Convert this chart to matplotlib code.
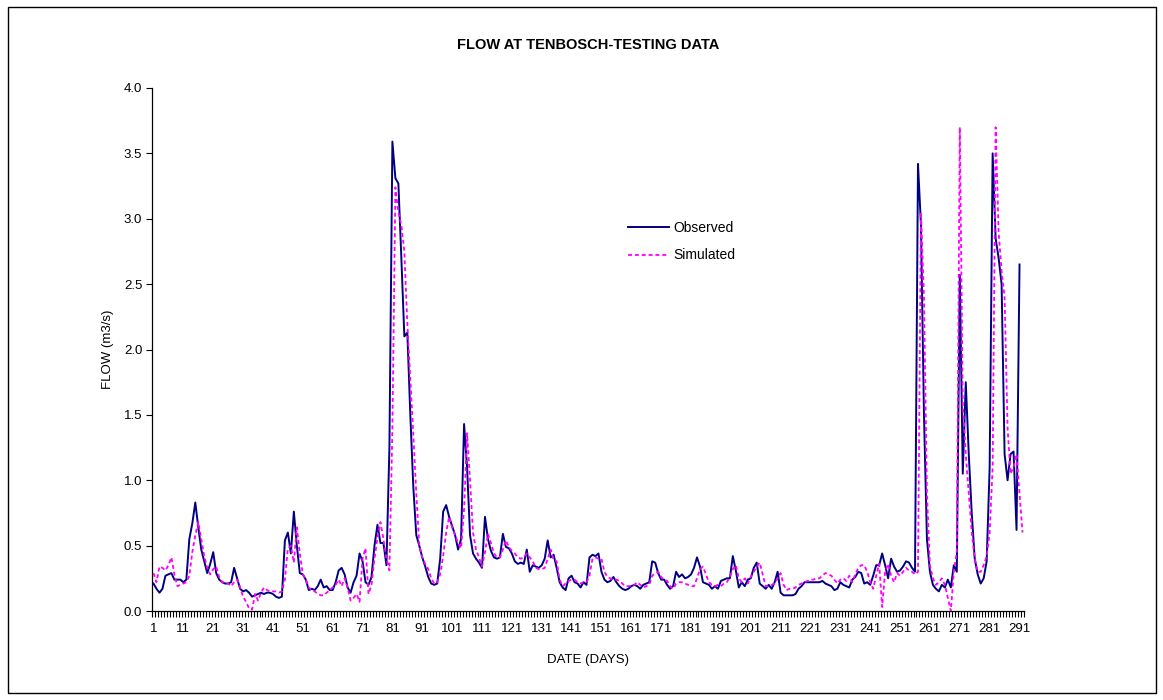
import matplotlib
matplotlib.use("Agg")
import matplotlib.pyplot as plt
from matplotlib.patches import Rectangle
import numpy as np

plt.rcParams['font.family'] = ['Liberation Sans', 'DejaVu Sans']

observed = [
    0.21, 0.17, 0.14, 0.17, 0.27, 0.28, 0.29, 0.24, 0.24, 0.24,
    0.22, 0.24, 0.55, 0.67, 0.83, 0.64, 0.47, 0.38, 0.29, 0.36,
    0.45, 0.29, 0.24, 0.22, 0.21, 0.21, 0.22, 0.33, 0.25, 0.17,
    0.15, 0.16, 0.14, 0.11, 0.12, 0.13, 0.14, 0.13, 0.14, 0.14,
    0.13, 0.11, 0.10, 0.11, 0.54, 0.60, 0.44, 0.76, 0.50, 0.29,
    0.28, 0.24, 0.16, 0.17, 0.16, 0.19, 0.24, 0.18, 0.19, 0.16,
    0.16, 0.22, 0.31, 0.33, 0.28, 0.18, 0.14, 0.22, 0.27, 0.44,
    0.38, 0.22, 0.20, 0.26, 0.50, 0.66, 0.52, 0.52, 0.35, 1.25,
    3.59, 3.31, 3.27, 2.70, 2.10, 2.13, 1.50, 0.95, 0.58, 0.50,
    0.41, 0.34, 0.26, 0.21, 0.20, 0.21, 0.40, 0.76, 0.81, 0.72,
    0.65, 0.58, 0.47, 0.55, 1.43, 1.10, 0.58, 0.44, 0.40, 0.37,
    0.33, 0.72, 0.55, 0.46, 0.41, 0.40, 0.41, 0.59, 0.49, 0.48,
    0.44, 0.38, 0.36, 0.37, 0.36, 0.47, 0.30, 0.35, 0.34, 0.33,
    0.35, 0.40, 0.54, 0.41, 0.43, 0.33, 0.22, 0.18, 0.16, 0.25,
    0.27, 0.22, 0.21, 0.18, 0.22, 0.20, 0.41, 0.43, 0.42, 0.44,
    0.30, 0.24, 0.22, 0.23, 0.26, 0.22, 0.19, 0.17, 0.16, 0.17,
    0.19, 0.20, 0.19, 0.17, 0.20, 0.21, 0.22, 0.38, 0.37, 0.29,
    0.24, 0.24, 0.20, 0.17, 0.19, 0.30, 0.26, 0.28, 0.25, 0.26,
    0.28, 0.33, 0.41, 0.34, 0.22, 0.21, 0.20, 0.17, 0.19, 0.17,
    0.23, 0.24, 0.25, 0.25, 0.42, 0.31, 0.18, 0.22, 0.19, 0.24,
    0.25, 0.33, 0.37, 0.21, 0.19, 0.17, 0.20, 0.17, 0.22, 0.30,
    0.14, 0.12, 0.12, 0.12, 0.12, 0.13, 0.17, 0.19, 0.22, 0.22,
    0.22, 0.22, 0.22, 0.22, 0.23, 0.21, 0.20, 0.19, 0.16, 0.17,
    0.22, 0.20, 0.19, 0.18, 0.24, 0.26, 0.30, 0.29, 0.21, 0.22,
    0.20, 0.27, 0.35, 0.35, 0.44, 0.35, 0.25, 0.40, 0.34, 0.30,
    0.31, 0.34, 0.38, 0.37, 0.33, 0.30, 3.42, 2.95, 1.50, 0.55,
    0.30, 0.20, 0.17, 0.15, 0.20, 0.18, 0.24, 0.18, 0.35, 0.30,
    2.57, 1.05, 1.75, 1.20, 0.75, 0.40, 0.28, 0.21, 0.25, 0.38,
    1.10, 3.50, 2.85, 2.70, 2.50, 1.20, 1.00, 1.20, 1.22, 0.62,
    2.65,
]

simulated = [
    0.29, 0.22, 0.34, 0.33, 0.31, 0.35, 0.41, 0.28, 0.19, 0.20,
    0.21, 0.22, 0.27, 0.45, 0.58, 0.68, 0.55, 0.42, 0.33, 0.28,
    0.32, 0.34, 0.26, 0.22, 0.22, 0.21, 0.19, 0.22, 0.24, 0.18,
    0.11, 0.07, 0.02, 0.01, 0.13, 0.08, 0.14, 0.18, 0.16, 0.15,
    0.15, 0.15, 0.14, 0.15, 0.24, 0.48, 0.50, 0.37, 0.64, 0.44,
    0.28, 0.24, 0.18, 0.16, 0.15, 0.13, 0.12, 0.12, 0.14, 0.16,
    0.18, 0.20, 0.24, 0.19, 0.25, 0.18, 0.08, 0.10, 0.13, 0.07,
    0.40, 0.48, 0.13, 0.20, 0.40, 0.56, 0.68, 0.55, 0.40, 0.31,
    1.40, 3.24, 3.05, 2.95, 2.75, 2.20, 1.78, 1.35, 0.90, 0.50,
    0.41, 0.36, 0.32, 0.25, 0.21, 0.22, 0.28, 0.42, 0.60, 0.72,
    0.64, 0.58, 0.52, 0.48, 0.78, 1.36, 1.00, 0.60, 0.47, 0.41,
    0.34, 0.45, 0.59, 0.52, 0.44, 0.41, 0.41, 0.47, 0.54, 0.49,
    0.46, 0.44, 0.41, 0.40, 0.41, 0.44, 0.41, 0.38, 0.33, 0.32,
    0.32, 0.33, 0.40, 0.47, 0.39, 0.38, 0.24, 0.19, 0.21, 0.23,
    0.24, 0.24, 0.22, 0.21, 0.22, 0.22, 0.27, 0.40, 0.41, 0.40,
    0.40, 0.30, 0.26, 0.25, 0.24, 0.24, 0.23, 0.21, 0.19, 0.19,
    0.19, 0.20, 0.22, 0.20, 0.18, 0.19, 0.20, 0.27, 0.29, 0.30,
    0.26, 0.24, 0.23, 0.19, 0.17, 0.21, 0.22, 0.22, 0.21, 0.20,
    0.19, 0.19, 0.25, 0.32, 0.34, 0.28, 0.22, 0.20, 0.19, 0.20,
    0.19, 0.21, 0.22, 0.26, 0.32, 0.35, 0.25, 0.22, 0.25, 0.21,
    0.26, 0.30, 0.34, 0.37, 0.28, 0.19, 0.19, 0.20, 0.21, 0.25,
    0.29, 0.20, 0.16, 0.17, 0.17, 0.18, 0.20, 0.21, 0.22, 0.23,
    0.24, 0.24, 0.25, 0.25, 0.27, 0.29, 0.28, 0.27, 0.24, 0.21,
    0.24, 0.25, 0.23, 0.27, 0.22, 0.28, 0.33, 0.35, 0.35, 0.30,
    0.22, 0.17, 0.27, 0.36, 0.03, 0.30, 0.36, 0.27, 0.22, 0.29,
    0.27, 0.30, 0.33, 0.31, 0.30, 0.28, 0.30, 3.05, 2.40, 0.90,
    0.35, 0.25, 0.20, 0.22, 0.25, 0.20, 0.10, 0.00, 0.30, 0.45,
    3.70, 1.60, 1.20, 0.90, 0.60, 0.40, 0.30, 0.30, 0.35, 0.42,
    0.60, 1.10, 3.70, 2.90, 2.60, 2.40, 1.40, 1.05, 1.10, 1.20,
    0.90, 0.60,
]

n = max(len(observed), len(simulated))
days = np.arange(1, n + 1)
xtick_labels = list(range(1, n + 1, 10))
yticks = [0.0, 0.5, 1.0, 1.5, 2.0, 2.5, 3.0, 3.5, 4.0]

W, H = 1163, 700
fig = plt.figure(figsize=(W / 100, H / 100), dpi=100)
fig.patch.set_facecolor('white')
fig.patches.append(Rectangle((8 / W, 7 / H), 1148 / W, 686 / H, transform=fig.transFigure,
                             fill=False, edgecolor='black', linewidth=1.0))

left, right, bottom, top = 152, 1024, 611, 88
ax = fig.add_axes([left / W, 1 - bottom / H, (right - left) / W, (bottom - top) / H])

ax.plot(days[:len(observed)], observed, color='#000080', lw=1.4, label='Observed', zorder=3)
ax.plot(days[:len(simulated)], simulated, color='#FF00FF', lw=1.3, linestyle=(0, (2.2, 1.6)),
        label='Simulated', zorder=4)

ax.set_xlim(0.5, n + 0.5)
ax.set_ylim(0, 4.0)
ax.set_yticks(yticks)
ax.set_yticklabels([f'{v:.1f}' for v in yticks], fontsize=9.5)
ax.set_xticks(xtick_labels)
ax.set_xticklabels([str(v) for v in xtick_labels], fontsize=9.5)
ax.set_xticks(np.arange(0.5, n + 1, 1), minor=True)
ax.tick_params(axis='x', which='major', length=0, pad=9)
ax.tick_params(axis='x', which='minor', length=4, direction='out', width=0.8)
ax.tick_params(axis='y', length=4, direction='out', width=0.8, pad=3)

for s in ['top', 'right']:
    ax.spines[s].set_visible(False)
for s in ['left', 'bottom']:
    ax.spines[s].set_linewidth(0.9)
    ax.spines[s].set_color('black')

ax.set_title('FLOW AT TENBOSCH-TESTING DATA', fontsize=10.5, fontweight='bold', pad=28)
ax.set_xlabel('DATE (DAYS)', fontsize=9.5, labelpad=13)
ax.set_ylabel('FLOW (m3/s)', fontsize=9.5, labelpad=7)

leg = ax.legend(loc='upper left', bbox_to_anchor=((622 - left) / (right - left), (bottom - 215) / (bottom - top)),
                frameon=False, fontsize=10, handlelength=3.0, handletextpad=0.3, labelspacing=1.0,
                borderaxespad=0)

fig.savefig('out.png', dpi=100, facecolor='white')
